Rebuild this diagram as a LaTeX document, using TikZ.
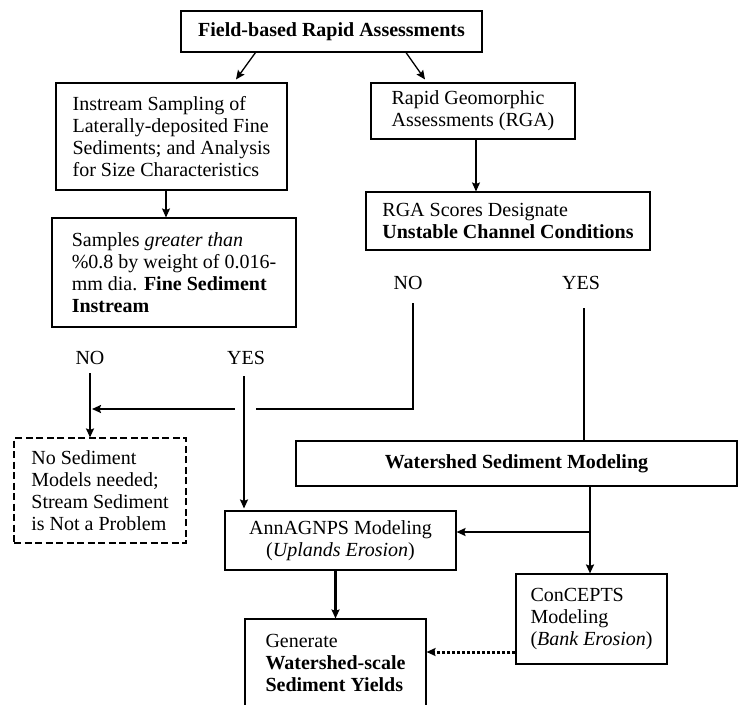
\documentclass[tikz,border=0pt]{standalone}
\usepackage{fontspec}
\setmainfont{Liberation Serif}
\usepackage{tikz}
\usetikzlibrary{arrows.meta}

\begin{document}
\begin{tikzpicture}[x=1pt,y=-1pt]
			\tikzset{% This is the style settings for nodes
				boxnode/.style={draw,line width=1.1pt,align=left,inner sep=0pt,font=\fontsize{20}{22}\selectfont},
				dashnode/.style={boxnode,dash pattern=on 7pt off 3.5pt},
				labelnode/.style={font=\fontsize{20}{22}\selectfont},
				tip/.style={-{Stealth[length=9pt,width=8pt,inset=1.5pt]}}}
			\useasboundingbox (0,0) rectangle (738,704);
			\clip (0,0) rectangle (738,704);
			\node[boxnode,align=center,minimum width=301pt,minimum height=41pt] (0) at (331.5,31.5) {\textbf{Field-based Rapid Assessments}};
			\node[boxnode,minimum width=231pt,minimum height=107pt] (1) at (171.5,136.5) {Instream Sampling of\\Laterally-deposited Fine\\Sediments; and Analysis\\for Size Characteristics};
			\node[boxnode,minimum width=204pt,minimum height=56pt] (2) at (473,111) {Rapid Geomorphic\\Assessments (RGA)};
			\node[boxnode,minimum width=284pt,minimum height=58pt] (3) at (508,221) {RGA Scores Designate\\\textbf{Unstable Channel Conditions}};
			\node[boxnode,minimum width=244pt,minimum height=109pt] (4) at (174,272.5) {Samples \textit{greater than}\\\%0.8 by weight of 0.016-\\mm dia. \textbf{Fine Sediment}\\\textbf{Instream}};
			\node[labelnode] (5) at (408,283) {NO};
			\node[labelnode] (6) at (581,283) {YES};
			\node[labelnode] (7) at (90,358) {NO};
			\node[labelnode] (8) at (246,358) {YES};
			\node[dashnode,minimum width=172pt,minimum height=105pt] (9) at (100,490.5) {No Sediment\\Models needed;\\Stream Sediment\\is Not a Problem};
			\node[boxnode,align=center,minimum width=441pt,minimum height=45pt] (10) at (516.5,463.5) {\textbf{Watershed Sediment Modeling}};
			\node[boxnode,align=center,minimum width=231pt,minimum height=59pt] (11) at (340.5,540.5) {AnnAGNPS Modeling\\(\textit{Uplands Erosion})};
			\node[boxnode,minimum width=151pt,minimum height=90pt] (12) at (591.5,619) {ConCEPTS\\Modeling\\(\textit{Bank Erosion})};
			\node[boxnode,minimum width=181pt,minimum height=88pt] (13) at (335.5,663) {Generate\\\textbf{Watershed-scale}\\\textbf{Sediment Yields}};

			\coordinate (c0) at (245,409);
			\coordinate (c1) at (89,409);
			\coordinate (c2) at (590,532);
			\path ([yshift=-33pt]12.west) coordinate (c3);

			\draw[tip,line width=1.3pt]([xshift=-76pt]0.south) -- ([xshift=64.5pt,yshift=3pt]1.north);
			\draw[tip,line width=1.3pt]([xshift=74.5pt]0.south) -- ([xshift=-48pt,yshift=3pt]2.north);
			\draw[tip,line width=1.3pt]([xshift=3pt]2.south) -- ([xshift=3pt]2.south |- 3.north);
			\draw[tip,line width=1.3pt]([xshift=-5.5pt]1.south) -- ([xshift=-5.5pt]1.south |- 4.north);
			\draw[line width=2pt,shorten <=10pt]([xshift=5pt]5.south) |- ([xshift=10.5pt]c0);
			\draw[tip,line width=2pt,shorten >=3pt]([xshift=-10.5pt]c0) -- (c1);
			\draw[tip,line width=2pt,shorten <=5pt](7.south) -- (7.south |- 9.north);
			\draw[tip,line width=2pt,shorten <=8pt,shorten >=2pt]([xshift=-2pt]8.south) -- ([xshift=-2pt]8.south |- 11.north);
			\draw[line width=2pt,shorten <=15pt]([xshift=3pt]6.south) -- ([xshift=3pt]6.south |- 10.north);
			\draw[tip,line width=2pt](c2 |- 10.south) -- (c2 |- 12.north);
			\draw[tip,line width=2pt](c2) -- (c2 -| 11.east);
			\draw[tip,line width=3pt](13.north |- 11.south) -- (13.north);
			\draw[tip,line width=3pt,dotted](c3) -- (c3 -| 13.east);
		\end{tikzpicture}
\end{document}
